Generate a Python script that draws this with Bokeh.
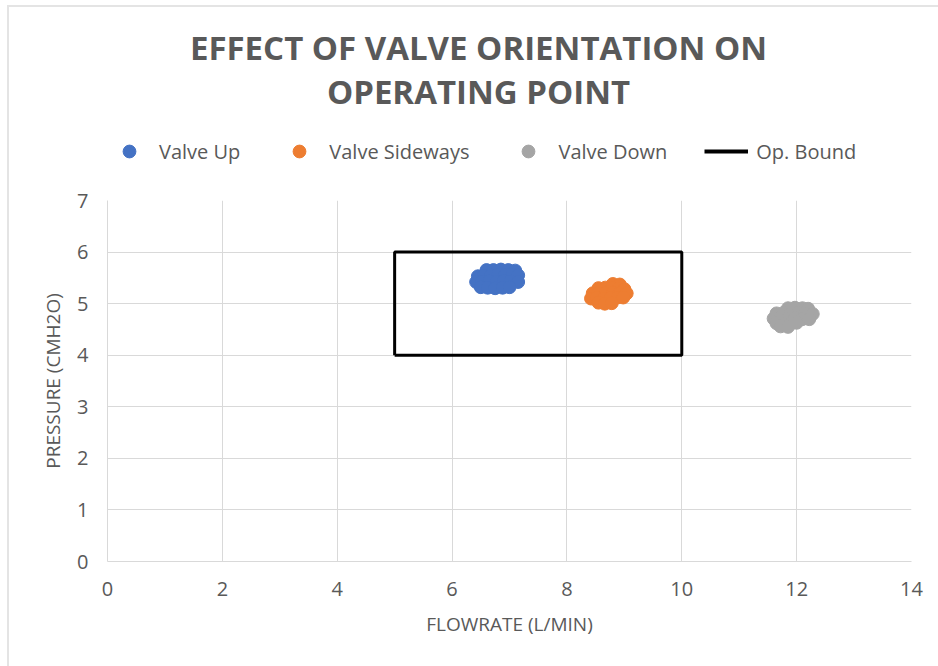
from bokeh.plotting import figure
from bokeh.layouts import column
from bokeh.models import Legend, LegendItem, FixedTicker, Label
from bokeh.embed import file_html
from bokeh.resources import INLINE

# ---- data ----
up_x = [6.60, 6.72, 6.85, 6.98, 7.10,
        6.45, 6.55, 6.68, 6.80, 6.92, 7.05, 7.15,
        6.42, 6.52, 6.65, 6.78, 6.90, 7.02, 7.15,
        6.50, 6.62, 6.75, 6.88, 7.00]
up_y = [5.65, 5.65, 5.66, 5.65, 5.64,
        5.53, 5.54, 5.55, 5.56, 5.55, 5.56, 5.55,
        5.42, 5.43, 5.44, 5.43, 5.44, 5.43, 5.42,
        5.32, 5.31, 5.30, 5.31, 5.32]

side_x = [8.80, 8.92,
          8.55, 8.67, 8.78, 8.90, 9.00,
          8.45, 8.55, 8.67, 8.80, 8.92, 9.04,
          8.42, 8.52, 8.64, 8.76, 8.88, 8.98,
          8.55, 8.66, 8.78]
side_y = [5.38, 5.37,
          5.30, 5.31, 5.30, 5.29, 5.28,
          5.20, 5.21, 5.20, 5.21, 5.20, 5.20,
          5.10, 5.11, 5.10, 5.11, 5.12, 5.12,
          5.02, 5.00, 5.01]

down_x = [11.85, 11.97, 12.10, 12.20,
          11.65, 11.77, 11.90, 12.02, 12.15, 12.28,
          11.60, 11.72, 11.85, 11.97, 12.10, 12.22,
          11.65, 11.77, 11.90, 12.00,
          11.72, 11.85]
down_y = [4.91, 4.92, 4.91, 4.90,
          4.81, 4.82, 4.81, 4.82, 4.81, 4.80,
          4.71, 4.72, 4.71, 4.72, 4.70, 4.70,
          4.62, 4.61, 4.62, 4.63,
          4.56, 4.55]

bound_x = [5, 5, 10, 10, 5]
bound_y = [4, 6, 6, 4, 4]

x_ticks = [0, 2, 4, 6, 8, 10, 12, 14]
y_ticks = [0, 1, 2, 3, 4, 5, 6, 7]

series_names = ["Valve Up", "Valve Sideways", "Valve Down", "Op. Bound"]
series_colors = ["#4472C4", "#ED7D31", "#A5A5A5", "black"]
title_lines = ["EFFECT OF VALVE ORIENTATION ON", "OPERATING POINT"]

TEXT = "#595959"
GRID = "#d9d9d9"
FONT = "Open Sans"
MSIZE = 13

# ---------- header figure: title + legend ----------
head = figure(width=929, height=173, x_range=(0, 1), y_range=(0, 1),
              output_backend="svg", toolbar_location=None,
              min_border_left=0, min_border_right=0,
              min_border_top=0, min_border_bottom=0)
head.axis.visible = False
head.grid.visible = False
head.outline_line_color = None

for txt, yy in zip(title_lines, [133, 89]):
    head.add_layout(Label(x=371, y=yy, x_units="screen", y_units="screen", text=txt,
                          text_font=FONT, text_font_size="33px", text_font_style="bold",
                          text_color=TEXT, text_align="center", text_baseline="middle"))

# legend swatch renderers: the same series, which fall outside this header's ranges
h_up = head.scatter(up_x, up_y, size=MSIZE, color=series_colors[0])
h_side = head.scatter(side_x, side_y, size=MSIZE, color=series_colors[1])
h_down = head.scatter(down_x, down_y, size=MSIZE, color=series_colors[2])
h_bound = head.line(bound_x, bound_y, line_color=series_colors[3], line_width=4)

legend = Legend(items=[LegendItem(label=n, renderers=[r]) for n, r in
                       zip(series_names, [h_up, h_side, h_down, h_bound])],
                orientation="horizontal", location=(0, 13),
                label_text_font=FONT, label_text_font_size="20px", label_text_color=TEXT,
                glyph_width=44, glyph_height=32, label_standoff=8, spacing=37,
                border_line_color=None, background_fill_alpha=0, padding=4, margin=0)
head.add_layout(legend, "center")

# ---------- main plot ----------
p = figure(width=929, height=486, x_range=(0, 14), y_range=(0, 7),
           output_backend="svg", toolbar_location=None,
           min_border_left=98, min_border_right=27, min_border_bottom=105,
           min_border_top=20)

p.scatter(up_x, up_y, size=MSIZE, color=series_colors[0])
p.scatter(side_x, side_y, size=MSIZE, color=series_colors[1])
p.scatter(down_x, down_y, size=MSIZE, color=series_colors[2])
p.line(bound_x, bound_y, line_color=series_colors[3], line_width=3)

p.outline_line_color = None
for ax in (p.xaxis[0], p.yaxis[0]):
    ax.major_tick_line_color = None
    ax.minor_tick_line_color = None
    ax.major_tick_out = 0
    ax.major_tick_in = 0
    ax.minor_tick_out = 0
    ax.minor_tick_in = 0
    ax.axis_line_color = GRID
    ax.major_label_text_font = FONT
    ax.major_label_text_font_size = "20px"
    ax.major_label_text_color = TEXT
    ax.axis_label_text_font = FONT
    ax.axis_label_text_font_size = "19px"
    ax.axis_label_text_color = TEXT
    ax.axis_label_text_font_style = "normal"

p.xaxis[0].ticker = FixedTicker(ticks=x_ticks)
p.yaxis[0].ticker = FixedTicker(ticks=y_ticks)
p.xaxis[0].axis_label = "FLOWRATE (L/MIN)"
p.yaxis[0].axis_label = "PRESSURE (CMH2O)"
p.xaxis[0].major_label_standoff = 20
p.yaxis[0].major_label_standoff = 19
p.xaxis[0].axis_label_standoff = 12
p.yaxis[0].axis_label_standoff = 8

p.xgrid.ticker = FixedTicker(ticks=x_ticks)
p.ygrid.ticker = FixedTicker(ticks=y_ticks)
p.grid.grid_line_color = GRID
p.grid.grid_line_width = 1

layout = column(head, p, spacing=0)
layout.styles = {"margin-left": "7px", "margin-top": "5px",
                 "border-left": "2px solid #e4e4e4", "border-top": "2px solid #e4e4e4"}
open("out.html", "w").write(file_html(layout, INLINE))
